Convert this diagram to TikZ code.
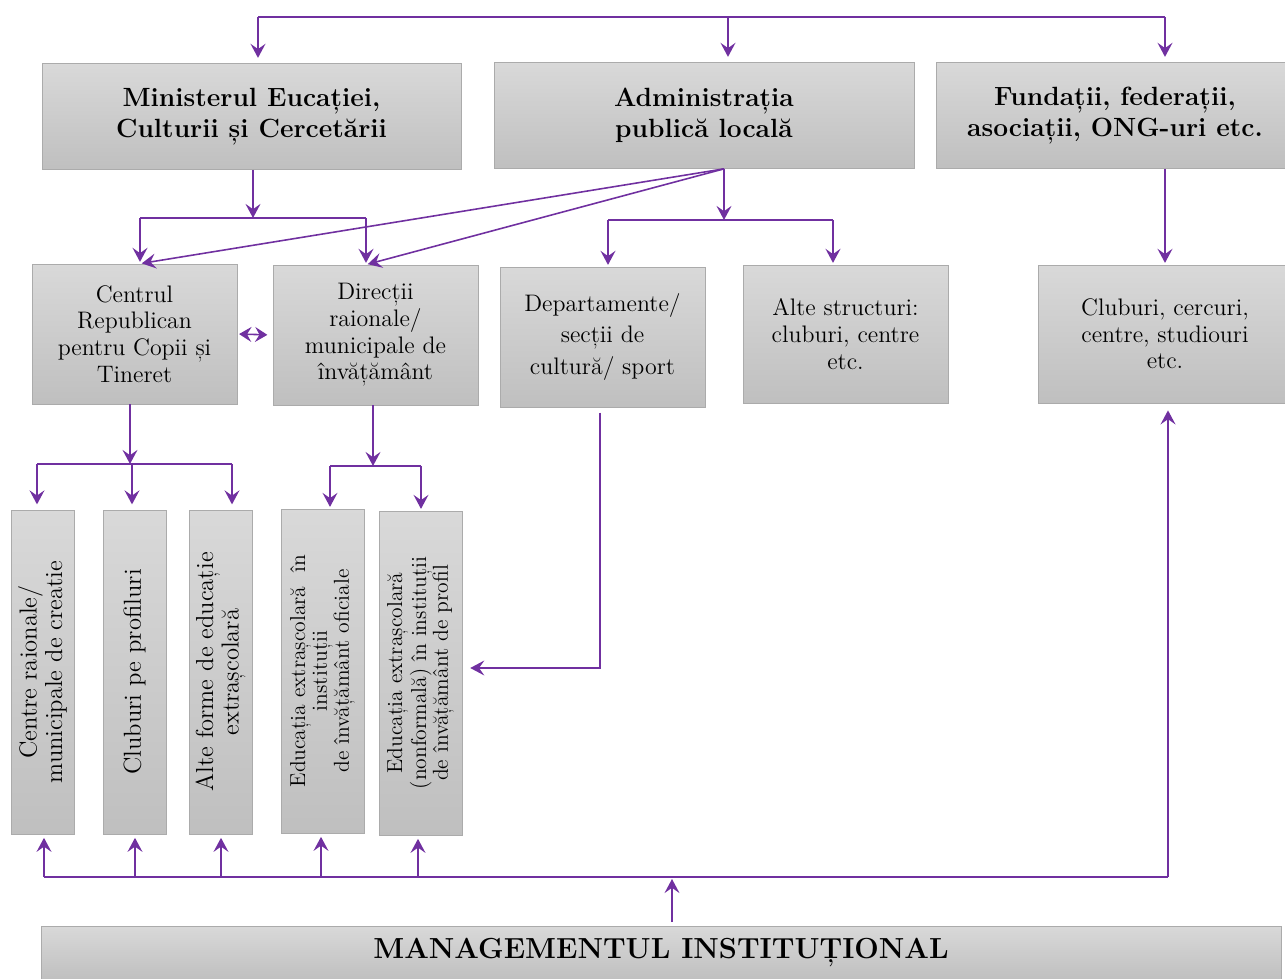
\documentclass[tikz,border=0pt]{standalone}
\usetikzlibrary{arrows.meta}
\definecolor{arrowpurple}{RGB}{112,48,160}
\tikzset{
  box/.style={draw=black!33, top color=black!15, bottom color=black!25, align=center, inner sep=2pt},
  topbox/.style={box, minimum height=2.12cm, font=\fontsize{15}{18}\selectfont\bfseries},
  midbox/.style={box, minimum width=4.1cm, minimum height=2.8cm, font=\fontsize{13.6}{15.2}\selectfont},
  vbox/.style={box, rotate=90, minimum width=6.48cm, minimum height=1.26cm, font=\fontsize{14}{14.6}\selectfont},
  wbox/.style={vbox, minimum height=1.66cm, font=\fontsize{12.3}{12.4}\selectfont},
  busline/.style={draw=arrowpurple, line width=1.1pt},
  link/.style={draw=arrowpurple, line width=0.9pt, -{Stealth[length=8pt,width=8.5pt,inset=3pt]}},
}
\begin{document}
\begin{tikzpicture}[x=0.02cm, y=-0.02cm]
\useasboundingbox (0,0) rectangle (1285,979);

% first level
\node[topbox, minimum width=8.38cm] (min) at (251.5,116.5) {Ministerul Eucației,\\Culturii și Cercetării};
\node[topbox, minimum width=8.4cm] (adm) at (704,115.5) {Administrația\\publică locală};
\node[topbox, minimum width=7.16cm] (fund) at (1115,115.5) {Fundații, federații,\\asociații, ONG-uri etc.};

% second level
\node[midbox] (crct) at (134.5,334) {Centrul\\Republican\\pentru Copii și\\Tineret};
\node[midbox] (dir) at (375.5,335) {Direcții\\raionale/\\municipale de\\învățământ};
\node[midbox, font=\fontsize{13.6}{18}\selectfont] (dep) at (602.5,337) {Departamente/\\secții de\\cultură/ sport};
\node[midbox, minimum height=2.76cm] (alte) at (845.5,334) {Alte structuri:\\cluburi, centre\\etc.};
\node[midbox, minimum width=5.08cm, minimum height=2.76cm] (club) at (1165,334) {Cluburi, cercuri,\\centre, studiouri\\etc.};

% third level (rotated: .east is the top, .west the bottom, .south the right side)
\node[vbox] (v1) at (42.5,672) {Centre raionale/\\municipale de creatie};
\node[vbox] (v2) at (134.5,672) {Cluburi pe profiluri};
\node[vbox] (v3) at (220.5,672) {Alte forme de educație\\extrașcolară};
\node[wbox] (v4) at (322.5,671) {Educația extrașcolară~~în\\instituții\\de învățământ oficiale};
\node[wbox] (v5) at (420.5,673) {Educația extrașcolară\\(nonformală) în instituții\\de învățământ de profil};

\node[box, minimum width=24.8cm, minimum height=1.08cm, font=\fontsize{16.5}{20}\selectfont\bfseries] (mgmt) at (661,953) {MANAGEMENTUL INSTITUȚIONAL};

% top bus
\coordinate (srcl) at (258,17);
\coordinate (srcm) at (728,17);
\coordinate (srcr) at (1165,17);
\draw[busline] (srcl) -- (srcr);
\draw[link, shorten >=3pt] (srcl) -- (srcl |- min.north);
\draw[link, shorten >=3pt] (srcm) -- (srcm |- adm.north);
\draw[link, shorten >=3pt] (srcr) -- (srcr |- fund.north);

% ministry
\coordinate (mbar) at (253,218);
\coordinate (mbl) at (140,218);
\coordinate (mbr) at (366,218);
\draw[link] (min.south -| mbar) -- (mbar);
\draw[busline] (mbl) -- (mbr);
\draw[link, shorten >=1pt] (mbl) -- (mbl |- crct.north);
\draw[link, shorten >=1pt] (mbr) -- (mbr |- dir.north);

% local administration
\coordinate (admout) at ([xshift=0.4cm]adm.south);
\coordinate (abar) at (724,220);
\coordinate (abl) at (608,220);
\coordinate (abr) at (833,220);
\draw[link, shorten >=1pt] (admout) -- (mbl |- crct.north);
\draw[link, shorten >=1pt] (admout) -- (mbr |- dir.north);
\draw[link] (admout) -- (abar);
\draw[busline] (abl) -- (abr);
\draw[link, shorten >=1pt] (abl) -- (abl |- dep.north);
\draw[link, shorten >=1pt] (abr) -- (abr |- alte.north);

% foundations
\draw[link, shorten >=1pt] (club.north |- fund.south) -- (club.north);

\draw[arrowpurple, line width=0.9pt, {Stealth[length=7pt,width=8.5pt,inset=2.5pt]}-{Stealth[length=7pt,width=8.5pt,inset=2.5pt]}, shorten <=1pt, shorten >=3pt] (crct.east) -- (dir.west);

% centre to its forms
\coordinate (cbar) at (130,464);
\coordinate (cbl) at (37,464);
\coordinate (cbm) at (132,464);
\coordinate (cbr) at (232,464);
\draw[link] (crct.south -| cbar) -- (cbar);
\draw[busline] (cbl) -- (cbr);
\draw[link, shorten >=3pt] (cbl) -- (cbl |- v1.east);
\draw[link, shorten >=3pt] (cbm) -- (cbm |- v2.east);
\draw[link, shorten >=3pt] (cbr) -- (cbr |- v3.east);

% directions to schools
\coordinate (dbar) at (373,466);
\coordinate (dbl) at (330,466);
\coordinate (dbr) at (421,466);
\draw[link] (dir.south -| dbar) -- (dbar);
\draw[busline] (dbl) -- (dbr);
\draw[link, shorten >=1pt] (dbl) -- (dbl |- v4.east);
\draw[link, shorten >=1pt] (dbr) -- (dbr |- v5.east);

% departments
\coordinate (depturn) at (600,668);
\draw[link, shorten <=3pt, shorten >=4.5pt] (dep.south -| depturn) -- (depturn) -- (depturn -| v5.south);

% bottom bus
\coordinate (bb1) at (44,877);
\coordinate (bb2) at (135,877);
\coordinate (bb3) at (221,877);
\coordinate (bb4) at (321,877);
\coordinate (bb5) at (418,877);
\coordinate (bbm) at (672,879);
\coordinate (bbr) at (1168,877);
\draw[busline] (bb1) -- (bbr);
\draw[link, shorten >=2pt] (bb1) -- (bb1 |- v1.west);
\draw[link, shorten >=2pt] (bb2) -- (bb2 |- v2.west);
\draw[link, shorten >=2pt] (bb3) -- (bb3 |- v3.west);
\draw[link, shorten >=2pt] (bb4) -- (bb4 |- v4.west);
\draw[link, shorten >=2pt] (bb5) -- (bb5 |- v5.west);
\draw[link, shorten >=4pt] (bbr) -- (bbr |- club.south);
\draw[link, shorten <=2pt] (mgmt.north -| bbm) -- (bbm);
\end{tikzpicture}
\end{document}
